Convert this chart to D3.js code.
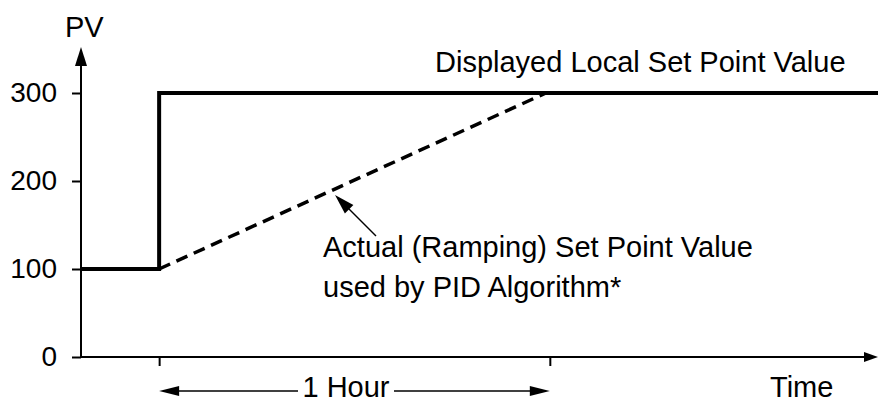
<!DOCTYPE html>
<html>
<head>
<meta charset="utf-8">
<script src="https://cdn.jsdelivr.net/npm/d3@7"></script>
<style>
  body { margin: 0; background: #fff; }
  text { font-family: "Liberation Sans", Arial, sans-serif; fill: #000; }
</style>
</head>
<body>
<div id="chart"></div>
<script>
// time in hours after the set point change, PV in engineering units
var displayedTime = [-0.2, 0, 0, 1.84];
var displayedPV = [100, 100, 300, 300];
var rampTime = [0, 0.99];
var rampPV = [100, 300];
var yTicks = [0, 100, 200, 300];
var xTicks = [0, 1];

function main() {
    const canvasWidth = 878;
    const canvasHeight = 401;

    var x = d3.scaleLinear().domain([-0.2, 1.84]).range([81, 878]);
    var y = d3.scaleLinear().domain([0, 300]).range([357, 93]);

    var svg = d3.select("#chart").append("svg")
        .attr("width", canvasWidth)
        .attr("height", canvasHeight);

    // arrow head helper: tip point, direction angle (radians), length, half width
    function arrowHead(tx, ty, ang, len, hw) {
        var bx = tx - len * Math.cos(ang), by = ty - len * Math.sin(ang);
        var nx = -Math.sin(ang), ny = Math.cos(ang);
        svg.append("path")
            .attr("d", "M" + tx + "," + ty +
                "L" + (bx + nx * hw) + "," + (by + ny * hw) +
                "L" + (bx - nx * hw) + "," + (by - ny * hw) + "Z")
            .style("fill", "black");
    }

    // y axis
    var yAxis = svg.append("g")
        .attr("transform", "translate(" + x(-0.2) + ",0)")
        .call(d3.axisLeft(y).tickValues(yTicks).tickSize(9).tickPadding(15));
    yAxis.select(".domain").remove();
    yAxis.selectAll("line").style("stroke-width", 2);
    yAxis.selectAll("text").style("font-size", "28px")
        .style("font-family", "'Liberation Sans', Arial, sans-serif");

    svg.append("line")
        .attr("x1", x(-0.2)).attr("x2", x(-0.2))
        .attr("y1", y(0)).attr("y2", 60)
        .style("stroke", "black").style("stroke-width", 2);
    arrowHead(x(-0.2), 47, -Math.PI / 2, 19, 6);

    // x axis
    var xAxis = svg.append("g")
        .attr("transform", "translate(0," + y(0) + ")")
        .call(d3.axisBottom(x).tickValues(xTicks).tickSize(9).tickFormat(""));
    xAxis.select(".domain").remove();
    xAxis.selectAll("line").style("stroke-width", 2);

    svg.append("line")
        .attr("x1", x(-0.2)).attr("x2", 868)
        .attr("y1", y(0)).attr("y2", y(0))
        .style("stroke", "black").style("stroke-width", 2);
    arrowHead(878, y(0), 0, 14, 5);

    svg.append("text").text("PV")
        .attr("x", 65).attr("y", 37)
        .style("font-size", "29px");

    svg.append("text").text("Time")
        .attr("x", 770).attr("y", 397)
        .style("font-size", "29px");

    // displayed set point (solid step)
    var line = d3.line()
        .x(function (d) { return x(d[0]); })
        .y(function (d) { return y(d[1]); });

    svg.append("path")
        .datum(d3.zip(displayedTime, displayedPV))
        .attr("d", line)
        .style("fill", "none")
        .style("stroke", "black")
        .style("stroke-width", 4);

    // ramping set point (dashed)
    svg.append("path")
        .datum(d3.zip(rampTime, rampPV))
        .attr("d", line)
        .style("fill", "none")
        .style("stroke", "black")
        .style("stroke-width", 3.5)
        .style("stroke-dasharray", "12,7");

    svg.append("text").text("Displayed Local Set Point Value")
        .attr("x", 435).attr("y", 72)
        .style("font-size", "29px");

    svg.append("text").text("Actual (Ramping) Set Point Value")
        .attr("x", 323).attr("y", 257)
        .style("font-size", "29px");
    svg.append("text").text("used by PID Algorithm*")
        .attr("x", 323).attr("y", 297)
        .style("font-size", "29px");

    // pointer to the ramp
    var tipX = 335, tipY = 195;
    svg.append("line")
        .attr("x1", 376).attr("y1", 236)
        .attr("x2", tipX + 10).attr("y2", tipY + 10)
        .style("stroke", "black").style("stroke-width", 1.5);
    arrowHead(tipX, tipY, Math.atan2(tipY - 236, tipX - 376), 20, 6);

    // 1 hour span
    var spanY = 391;
    svg.append("line")
        .attr("x1", x(0) + 10).attr("x2", x(1) - 10)
        .attr("y1", spanY).attr("y2", spanY)
        .style("stroke", "black").style("stroke-width", 1.5);
    arrowHead(x(0), spanY, Math.PI, 20, 5);
    arrowHead(x(1), spanY, 0, 20, 5);

    var mid = 346;
    svg.append("rect")
        .attr("x", mid - 48).attr("y", 370)
        .attr("width", 96).attr("height", 31)
        .style("fill", "white");
    svg.append("text").text("1 Hour")
        .attr("x", mid).attr("y", 397)
        .attr("text-anchor", "middle")
        .style("font-size", "29px");
}
main();
</script>
</body>
</html>
